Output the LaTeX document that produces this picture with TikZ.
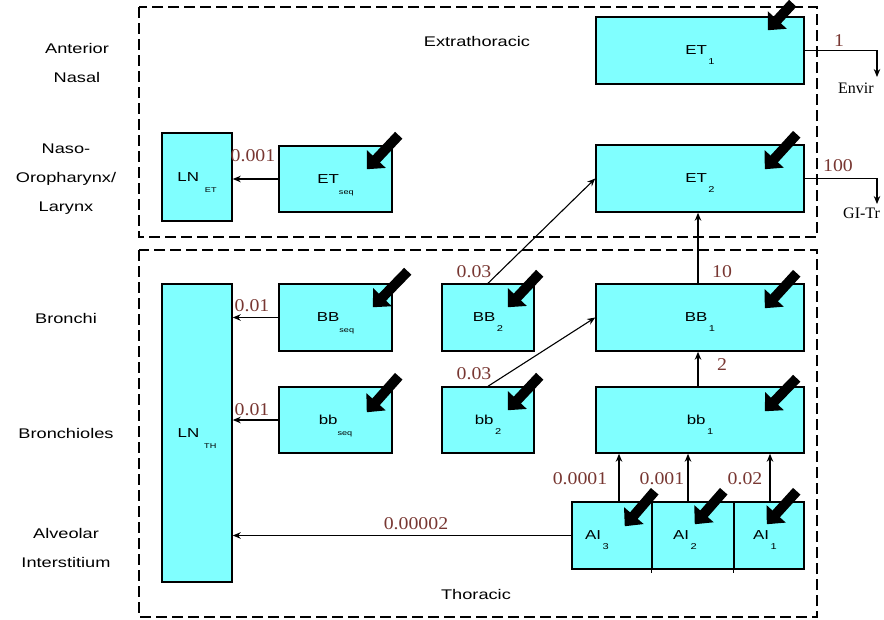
\documentclass[tikz,border=0pt]{standalone}
\usepackage{fontspec}
\setmainfont{Liberation Sans}
\newfontfamily\stretchsans{Liberation Sans}[FakeStretch=1.3]
\newfontfamily\numserif{Liberation Serif}[FakeStretch=1.1]
\newfontfamily\plainserif{Liberation Serif}
\usetikzlibrary{arrows.meta}
\definecolor{boxcyan}{HTML}{80FFFF}
\definecolor{numcol}{RGB}{120,55,50}
\newcommand\lbl[2]{#1\hspace{1.5pt}\smash{\raisebox{-9.5pt}{\fontsize{8.5}{8.5}\selectfont #2}}}
\newcommand\lbs[3]{#1\hspace{#3}\smash{\raisebox{-11pt}{\fontsize{7}{7}\selectfont #2}}}
\begin{document}
\begin{tikzpicture}[x=1pt,y=-1pt,
  box/.style={draw=black,line width=1.5pt,fill=boxcyan,inner sep=0pt,
    font=\stretchsans\fontsize{13}{13}\selectfont},
  conn/.style={line width=1.1pt,-{Stealth[length=8pt,width=6.5pt]}},
  dep/.style={line width=10pt,-{Triangle[length=14pt,width=25pt]}},
  num/.style={font=\numserif\fontsize{18}{18}\selectfont,text=numcol,inner sep=0pt},
  side/.style={font=\stretchsans\fontsize{14}{29}\selectfont,align=center,inner sep=0pt},
  outtext/.style={font=\plainserif\fontsize{16}{16}\selectfont,inner sep=0pt,anchor=west},
  dbox/.style={dash pattern=on 11pt off 5pt,line width=1.6pt}]
\useasboundingbox (0,0) rectangle (884,619);

% regions
\draw[dbox] (139,7) rectangle (817,237);
\draw[dbox] (139,250) rectangle (817,617);
\node[side] (extra) at (477,41) {Extrathoracic};
\node[side] (thor) at (476,594) {Thoracic};

% side labels
\node[side] (antnas) at (77,63) {Anterior\\Nasal};
\node[side] (naso) at (66,179) {Naso-\\Oropharynx/\\Larynx};
\node[side] (bron) at (66,318) {Bronchi};
\node[side] (bronchio) at (66,433) {Bronchioles};
\node[side] (alv) at (66,547.5) {Alveolar\\Interstitium};

% boxes
\node[box,minimum width=208pt,minimum height=67pt] (ET1) at (700,50.5) {\lbl{ET}{1}};
\node[box,minimum width=70pt,minimum height=88pt] (LNET) at (197,177) {\lbs{LN}{ET}{6pt}};
\node[box,minimum width=113pt,minimum height=66pt] (ETseq) at (335.5,179) {\lbs{ET}{seq}{0pt}};
\node[box,minimum width=208pt,minimum height=67pt] (ET2) at (700,178.5) {\lbl{ET}{2}};
\node[box,minimum width=70pt,minimum height=298pt] (LNTH) at (197,433) {\lbs{LN}{TH}{5pt}};
\node[box,minimum width=113pt,minimum height=67pt] (BBseq) at (335.5,317.5) {\lbs{BB}{seq}{0pt}};
\node[box,minimum width=92pt,minimum height=67pt] (BB2) at (488,317.5) {\lbl{BB}{2}};
\node[box,minimum width=208pt,minimum height=67pt] (BB1) at (700,317.5) {\lbl{BB}{1}};
\node[box,minimum width=113pt,minimum height=66pt] (bbseq) at (335.5,420) {\lbs{bb}{seq}{0pt}};
\node[box,minimum width=92pt,minimum height=66pt] (bb2) at (488,420) {\lbl{bb}{2}};
\node[box,minimum width=208pt,minimum height=66pt] (bb1) at (700,420) {\lbl{bb}{1}};
\node[box,minimum width=80pt,minimum height=67pt] (AI3) at (612,535.5) {\lbl{AI}{3}\hspace*{30pt}};
\node[box,minimum width=82pt,minimum height=67pt] (AI2) at (693,535.5) {\lbl{AI}{2}\hspace*{16pt}};
\node[box,minimum width=70pt,minimum height=67pt] (AI1) at (769,535.5) {\lbl{AI}{1}\hspace*{8pt}};
\draw[line width=1.5pt] (AI2.south west) -- ++(0,3);
\draw[line width=1.5pt] (AI1.south west) -- ++(0,3);

% deposition arrows
\draw[dep] ([shift={(-12,-13)}]ET1.north east) -- ++(-25,27);
\draw[dep] ([shift={(6,-10)}]ETseq.north east) -- ++(-32,34);
\draw[dep] ([shift={(-8,-10)}]ET2.north east) -- ++(-32,35);
\draw[dep] ([shift={(15,-12)}]BBseq.north east) -- ++(-35,36);
\draw[dep] ([shift={(5,-10)}]BB2.north east) -- ++(-32,34);
\draw[dep] ([shift={(-8,-10)}]BB1.north east) -- ++(-32,35);
\draw[dep] ([shift={(6,-10)}]bbseq.north east) -- ++(-32,36);
\draw[dep] ([shift={(5,-10)}]bb2.north east) -- ++(-32,34);
\draw[dep] ([shift={(-8,-8)}]bb1.north east) -- ++(-32,33);
\draw[dep] ([shift={(2,-10)}]AI3.north east) -- ++(-30,35);
\draw[dep] ([shift={(-11,-10)}]AI2.north east) -- ++(-29,33);
\draw[dep] ([shift={(-8,-10)}]AI1.north east) -- ++(-30,33);

% connectors
\draw[conn] (ETseq.west) -- (ETseq.west -| LNET.east);
\node[num] (n1) at (253,156) {0.001};
\draw[conn] (BBseq.west) -- (BBseq.west -| LNTH.east);
\node[num] (n2) at (252,306) {0.01};
\draw[conn] (bbseq.west) -- (bbseq.west -| LNTH.east);
\node[num] (n3) at (252,410) {0.01};
\draw[conn] (AI3.west) -- (AI3.west -| LNTH.east);
\node[num] (n4) at (416,524) {0.00002};

\coordinate (envA) at (877,77);
\draw[conn] (ET1.east) -| (envA);
\node[num] (n5) at (839,41) {1};
\node[outtext] (envir) at (838,88) {Envir};
\coordinate (giA) at (877,204);
\draw[conn] (ET2.east) -| (giA);
\node[num] (n6) at (838,166) {100};
\node[outtext] (gitr) at (843,213) {GI-Tr};

\draw[conn] ([xshift=-2pt]BB1.north) -- ([xshift=-2pt]ET2.south);
\node[num] (n7) at (722,272) {10};
\draw[conn] (BB2.north) -- (ET2.west);
\node[num] (n8) at (474,272) {0.03};
\draw[conn] (bb2.north) -- (BB1.west);
\node[num] (n9) at (474,374) {0.03};
\draw[conn] ([xshift=-2pt]bb1.north) -- ([xshift=-2pt]BB1.south);
\node[num] (n10) at (722,365) {2};

\draw[conn] ([xshift=7pt]AI3.north) -- ([xshift=7pt]AI3.north |- bb1.south);
\node[num] (n11) at (580,479) {0.0001};
\draw[conn] ([xshift=-5pt]AI2.north) -- ([xshift=-5pt]AI2.north |- bb1.south);
\node[num] (n12) at (662,479) {0.001};
\draw[conn] ([xshift=1pt]AI1.north) -- ([xshift=1pt]AI1.north |- bb1.south);
\node[num] (n13) at (745,479) {0.02};
\end{tikzpicture}
\end{document}
